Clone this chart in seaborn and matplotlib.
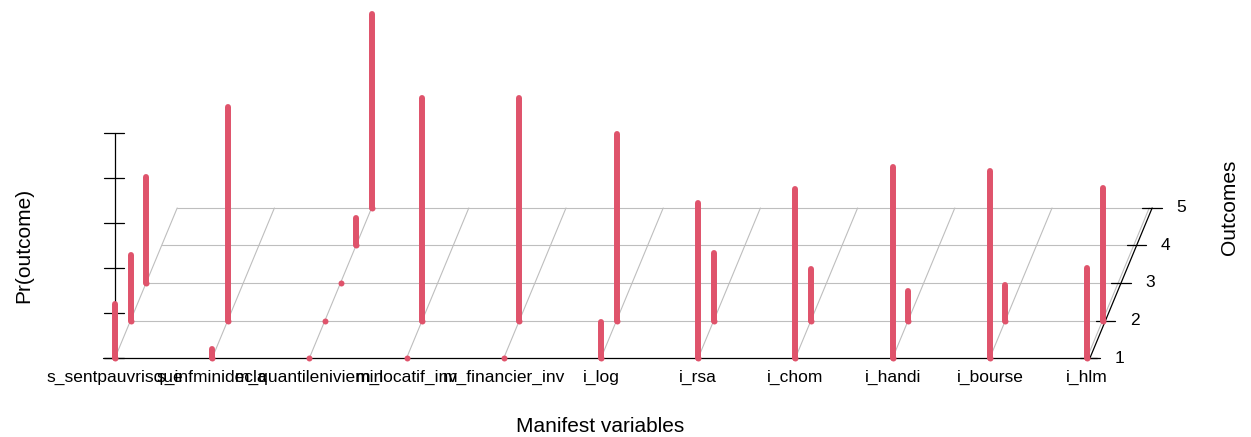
import numpy as np
import pandas as pd
import matplotlib
matplotlib.use("Agg")
import matplotlib.pyplot as plt
import seaborn as sns

# ---------------- data ----------------
variables = ["s_sentpauvrisque", "s_infminidecla", "m_quantileniviemin",
             "m_locatif_inv", "m_financier_inv", "i_log", "i_rsa",
             "i_chom", "i_handi", "i_bourse", "i_hlm"]
outcome_levels = [1, 2, 3, 4, 5]
nan = np.nan
p_outcome1 = [0.24, 0.04, 0.00, 0.00, 0.00, 0.16, 0.69, 0.75, 0.85, 0.83, 0.40]
p_outcome2 = [0.29, 0.95, 0.00, 0.99, 0.99, 0.83, 0.30, 0.23, 0.13, 0.16, 0.59]
p_outcome3 = [0.47, nan, 0.00, nan, nan, nan, nan, nan, nan, nan, nan]
p_outcome4 = [nan, nan, 0.12, nan, nan, nan, nan, nan, nan, nan, nan]
p_outcome5 = [nan, nan, 0.86, nan, nan, nan, nan, nan, nan, nan, nan]
pr_ticks = [0.0, 0.2, 0.4, 0.6, 0.8, 1.0]

# ---------------- style ----------------
sns.set_style("white")
plt.rcParams["font.family"] = ["Liberation Sans", "DejaVu Sans"]
plt.rcParams["text.color"] = "black"

RED = "#DF536B"
GRID = "#BEBEBE"
DX = 0.16     # oblique shift along x per outcome step (variable units)
DY = 0.1667   # oblique shift along y per outcome step (probability units)

rows = []
for k, arr in zip(outcome_levels, [p_outcome1, p_outcome2, p_outcome3, p_outcome4, p_outcome5]):
    for i, v in enumerate(variables):
        if not np.isnan(arr[i]):
            rows.append(dict(variable=v, idx=i, outcome=k, p=arr[i]))
df = pd.DataFrame(rows)
df["sx"] = df["idx"] + (df["outcome"] - 1) * DX
df["sy0"] = (df["outcome"] - 1) * DY
df["sy1"] = df["sy0"] + df["p"]

nvar = len(variables)
kmax = max(outcome_levels)

fig = plt.figure(figsize=(12.51, 4.37), dpi=100)
ax = fig.add_axes([0, 0, 1, 1])

# grid: horizontal lines at each outcome level (back levels)
for k in outcome_levels[1:]:
    y = (k - 1) * DY
    ax.plot([(k - 1) * DX, (nvar - 1) + 0.03 + (k - 1) * DX], [y, y],
            color=GRID, lw=0.8, zorder=1)
# grid: oblique lines from each variable
for i in range(nvar):
    ax.plot([i, i + (kmax - 1) * DX], [0, (kmax - 1) * DY],
            color=GRID, lw=0.8, zorder=1)

# front x axis
ax.plot([-0.12, nvar - 1 + 0.1], [0, 0], color="black", lw=0.9, zorder=2)
# Pr(outcome) axis
ax.plot([0, 0], [0, 1], color="black", lw=0.9, zorder=2)
for t in pr_ticks:
    ax.plot([-0.11, 0.09], [t, t], color="black", lw=0.9, zorder=2)
# Outcomes axis
x0 = nvar - 1 + 0.03
ax.plot([x0, x0 + (kmax - 1) * DX], [0, (kmax - 1) * DY], color="black", lw=0.9, zorder=2)
for k in outcome_levels:
    xa = x0 + (k - 1) * DX
    ya = (k - 1) * DY
    ax.plot([xa - 0.1, xa + 0.1], [ya, ya], color="black", lw=0.9, zorder=2)
    ax.text(xa + 0.3, ya, str(k), ha="center", va="center", fontsize=12.5, color="black")

# bars
lc = ax.vlines(df["sx"], df["sy0"], df["sy1"], color=RED, lw=4.3, zorder=3)
lc.set_capstyle("round")
sns.scatterplot(data=df, x="sx", y="sy0", color=RED, s=4.3 ** 2, linewidth=0,
                ax=ax, legend=False, zorder=4)
ax.set_xlim(-1.183, 11.687)
ax.set_ylim(-0.351, 1.591)
ax.axis("off")

# variable labels
for i, v in enumerate(variables):
    ax.text(i, -0.051, v, ha="center", va="top", fontsize=12.5, color="black")

# axis titles (figure pixel positions)
W, H = 1251, 437
fig.text(600 / W, 1 - 427 / H, "Manifest variables", ha="center", va="center", fontsize=15, color="black")
fig.text(24 / W, 1 - 245 / H, "Pr(outcome)", ha="center", va="center", rotation=90, fontsize=15, color="black")
fig.text(1230 / W, 1 - 207 / H, "Outcomes", ha="center", va="center", rotation=90, fontsize=15, color="black")

fig.savefig("out.png", dpi=100)
